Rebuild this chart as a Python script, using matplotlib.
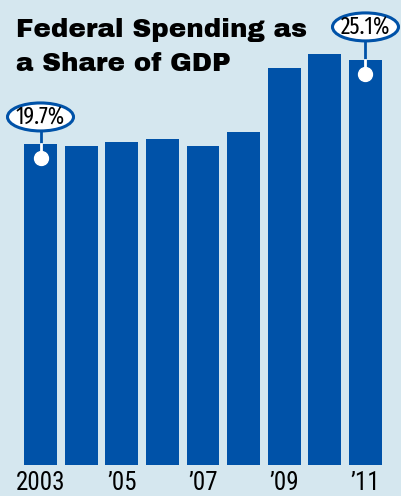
import matplotlib
matplotlib.use("Agg")
import matplotlib.pyplot as plt
from matplotlib.patches import Ellipse
from matplotlib.transforms import IdentityTransform
import numpy as np

years = [2003, 2004, 2005, 2006, 2007, 2008, 2009, 2010, 2011]
share = [19.7, 19.6, 19.8, 20.0, 19.6, 20.5, 24.6, 25.5, 25.1]
tick_years = [2003, 2005, 2007, 2009, 2011]
tick_labels = ["2003", "\u201905", "\u201907", "\u201909", "\u201911"]
callouts = {2003: "19.7%", 2011: "25.1%"}
title_lines = ["Federal Spending as", "a Share of GDP"]

bg = "#d5e7ef"
blue = "#0052a8"
narrow = ["Roboto Condensed", "DejaVu Sans"]
xnarrow = ["Fira Sans Extra Condensed", "Roboto Condensed", "DejaVu Sans"]
heavy = ["Archivo Black", "DejaVu Sans"]

fig = plt.figure(figsize=(4.01, 4.96), dpi=100, facecolor=bg)
ax = fig.add_axes([0, 31 / 496, 1, 465 / 496])
ax.set_facecolor(bg)

base = -0.93
x = np.arange(len(years))
ax.bar(x, np.array(share) - base, bottom=base, width=0.81, color=blue)
ax.set_xlim(-0.997, 8.874)
ax.set_ylim(base, 28.95)
for s in ax.spines.values():
    s.set_visible(False)
ax.set_yticks([])
ax.set_xticks([years.index(y) for y in tick_years])
ax.set_xticklabels(tick_labels, family=narrow, fontsize=18)
ax.tick_params(axis="x", length=0, pad=4)

for k, line in enumerate(title_lines):
    fig.text(16 / 401, 1 - (37 + 34 * k) / 496, line, fontsize=18.8, family=heavy,
             va="baseline", ha="left", color="black")

# callout bubbles, drawn in pixel space
rise = {2003: 27, 2011: 33}
for yr, txt in callouts.items():
    i = years.index(yr)
    px, py = ax.transData.transform((i, share[i]))
    cy = py + rise[yr]
    ax.plot([px, px], [py, cy - 14], color=blue, lw=2, transform=IdentityTransform(), clip_on=False)
    ax.plot([px, px], [py - 14, py], color="white", lw=2, transform=IdentityTransform(), clip_on=False)
    ax.plot([px], [py - 14], "o", color="white", ms=10, mec="white", transform=IdentityTransform(), clip_on=False)
    e = Ellipse((px, cy), 66, 28, facecolor="white", edgecolor=blue, lw=2.2,
                transform=IdentityTransform(), clip_on=False, zorder=5)
    ax.add_artist(e)
    ax.text(px, cy - 8, txt, ha="center", va="baseline", family=xnarrow, fontsize=17,
            transform=IdentityTransform(), zorder=6)

fig.savefig("out.png", dpi=100, facecolor=bg)
